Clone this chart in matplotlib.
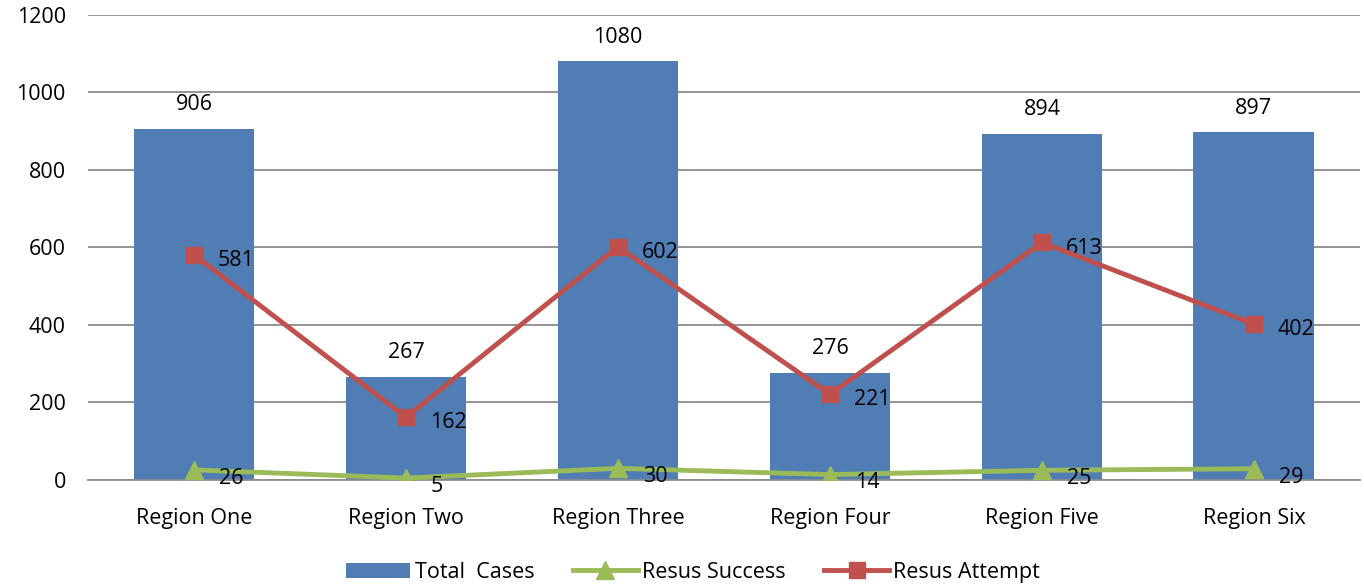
import matplotlib.pyplot as plt
import numpy as np

plt.rcParams['font.family'] = ['Open Sans', 'DejaVu Sans']

regions = ['Region One', 'Region Two', 'Region Three', 'Region Four', 'Region Five', 'Region Six']
total_cases = [906, 267, 1080, 276, 894, 897]
resus_success = [26, 5, 30, 14, 25, 29]
resus_attempt = [581, 162, 602, 221, 613, 402]

blue = '#4F7DB4'
green = '#9BBB59'
red = '#C0504D'

fig = plt.figure(figsize=(13.64, 5.88), dpi=100)
ax = fig.add_axes([0.0645, 0.1837, 0.9325, 0.7908])

x = np.arange(len(regions))
bars = ax.bar(x, total_cases, width=0.57, color=blue, zorder=2)
l1, = ax.plot(x, resus_success, color=green, lw=3.5, marker='^', ms=13, zorder=3)
l2, = ax.plot(x, resus_attempt, color=red, lw=3.5, marker='s', ms=12, zorder=4)

fs = 15.5
for xi, v in zip(x, total_cases):
    ax.annotate(str(v), (xi, v), xytext=(0, 10), textcoords='offset points',
                ha='center', va='bottom', fontsize=fs)
for xi, v in zip(x, resus_attempt):
    ax.annotate(str(v), (xi, v), xytext=(17, -4), textcoords='offset points',
                ha='left', va='center', fontsize=fs)
for xi, v in zip(x, resus_success):
    ax.annotate(str(v), (xi, v), xytext=(18, -6), textcoords='offset points',
                ha='left', va='center', fontsize=fs)

ax.set_xlim(-0.5, 5.5)
ax.set_ylim(0, 1200)
ax.set_yticks(range(0, 1201, 200))
ax.set_xticks(x)
ax.set_xticklabels(regions)
ax.tick_params(axis='both', length=0, labelsize=fs)
ax.tick_params(axis='y', pad=16)
ax.tick_params(axis='x', pad=20)
ax.yaxis.grid(True, color='#8C8C8C', lw=1.3)
ax.set_axisbelow(True)
for s in ['top', 'right', 'left']:
    ax.spines[s].set_visible(False)
ax.spines['bottom'].set_color('#8C8C8C')
ax.spines['bottom'].set_linewidth(1.3)

fig.legend([bars, l1, l2], ['Total  Cases', 'Resus Success', 'Resus Attempt'],
           loc='center', bbox_to_anchor=(0.508, 0.027), ncol=3, frameon=False,
           fontsize=fs, handlelength=3.0, columnspacing=1.8, handletextpad=0.2)

fig.savefig('out.png', dpi=100)
